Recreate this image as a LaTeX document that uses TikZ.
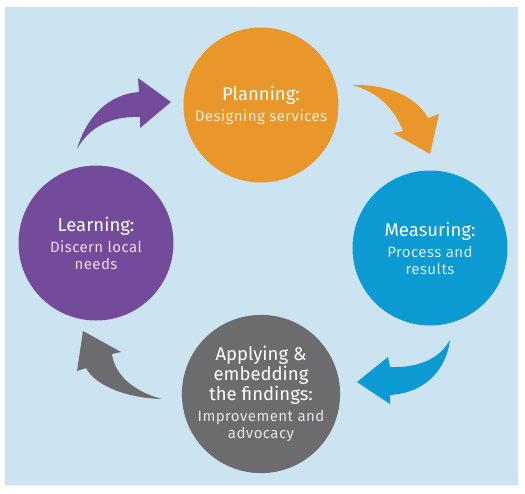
\documentclass[tikz,border=0pt]{standalone}
\usepackage{fontspec}
\setmainfont{Fira Sans}
\definecolor{lbg}{HTML}{CCE4F1}
\definecolor{lorange}{HTML}{E9972A}
\definecolor{lpurple}{HTML}{744B9B}
\definecolor{lblue}{HTML}{0C9AD3}
\definecolor{lgrey}{HTML}{6C6C6E}
\newcommand{\sub}[2]{{\fontsize{15}{17}\selectfont\addfontfeatures{LetterSpace=3}\color{white!82!#1}#2}}
\begin{document}
\begin{tikzpicture}[x=1pt,y=-1pt,every node/.style={inner sep=0pt}]
\tikzstyle{stage}=[circle,minimum size=155pt,align=center,text=white,font=\fontsize{18.5}{20}\selectfont]
\useasboundingbox (0,0) rectangle (525,493);
\fill[lbg] (5,7) rectangle (518,485);

\node[stage,fill=lorange](n0) at (261,105) {Planning:\\[1pt]\sub{lorange}{Designing services}};
\node[stage,fill=lblue](n1) at (430,248) {Measuring:\\[1pt]\sub{lblue}{Process and}\\[-3pt]\sub{lblue}{results}};
\node[stage,fill=lgrey](n2) at (261,394) {Applying \&\\embedding\\the findings:\\[1pt]\sub{lgrey}{Improvement and}\\[-3pt]\sub{lgrey}{advocacy}};
\node[stage,fill=lpurple](n3) at (96,243) {Learning:\\[1pt]\sub{lpurple}{Discern local}\\[-3pt]\sub{lpurple}{needs}};

% cycle arrows
\fill[lpurple] (77,149) .. controls (86,118) and (108,94) .. (139,92) -- (138,78) -- (171,102) -- (140,128) -- (140,117) .. controls (112,116) and (90,126) .. cycle;
\fill[lorange] (352,85) .. controls (390,84) and (417,98) .. (428,118) -- (439,114) -- (430,154) -- (393,133) -- (403,131) .. controls (394,108) and (378,92) .. cycle;
\fill[lblue] (450,340) .. controls (446,370) and (425,393) .. (390,395) -- (390,404) -- (357,382) -- (388,357) -- (390,367) .. controls (420,368) and (440,358) .. cycle;
\fill[lgrey] (162,399) .. controls (125,398) and (95,385) .. (86,368) -- (77,371) -- (83,331) -- (121,352) -- (112,354) .. controls (115,376) and (135,392) .. cycle;
\end{tikzpicture}
\end{document}
